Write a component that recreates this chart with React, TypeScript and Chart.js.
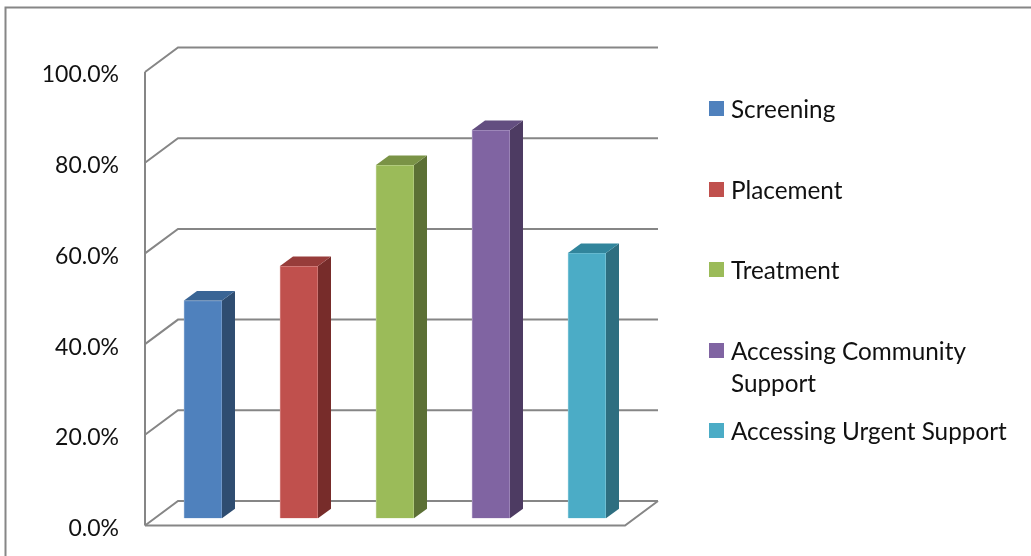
import React, { useEffect, useRef } from "react";
import { Chart, registerables } from "chart.js";

Chart.register(...registerables);

const categories = [
  "Screening",
  "Placement",
  "Treatment",
  "Accessing Community Support",
  "Accessing Urgent Support",
];
const shares = [48.0, 55.6, 77.9, 85.6, 58.5];
const faceColors = ["#4F81BD", "#C0504D", "#9BBB59", "#8064A2", "#4BACC6"];
const edgeColors = ["#7FA3D0", "#D68684", "#B9D08A", "#A793C0", "#80C6D9"];
const sideColors = ["#2F4D71", "#772C2A", "#5C7035", "#4D3B62", "#2E6E80"];
const topColors = ["#3A6595", "#973C3A", "#7A9346", "#634E80", "#31859C"];
const legendLines = [
  ["Screening"],
  ["Placement"],
  ["Treatment"],
  ["Accessing Community", "Support"],
  ["Accessing Urgent Support"],
];
const legendRowCenters = [108.5, 189.5, 269.5, 350.5, 430.5];

const GRID_COLOR = "#868686";
const TEXT_COLOR = "#111111";
const FONT_FAMILY = "Lato, Carlito, sans-serif";
const TICK_FONT_SIZE = 23;
const LEGEND_FONT_SIZE = 24.3;

// Oblique offsets of the box: the walls recede by WALL_*, bars are half-way in.
const WALL_DX = 33;
const WALL_DY = 24.5;
const BAR_DX = 13;
const BAR_DY = 9.5;
// Bars stand in the middle of the floor, so the front-left corner sits left of the first slot.
const FRONT_INSET = 10;

const box3d = {
  id: "box3d",
  beforeDraw(chart: Chart) {
    // Frame of the chart object: only its top and left edges show.
    const { ctx, width, height } = chart;
    ctx.save();
    ctx.strokeStyle = GRID_COLOR;
    ctx.lineWidth = 2;
    ctx.beginPath();
    ctx.moveTo(width, 7.5);
    ctx.lineTo(5.5, 7.5);
    ctx.lineTo(5.5, height);
    ctx.stroke();
    ctx.restore();
  },
  beforeDatasetsDraw(chart: Chart) {
    const { ctx, chartArea } = chart;
    const y = chart.scales.y;
    const left = chartArea.left - FRONT_INSET;
    const right = chartArea.right - FRONT_INSET;
    ctx.save();
    ctx.strokeStyle = GRID_COLOR;
    ctx.lineWidth = 2;
    ctx.lineJoin = "miter";
    // Back wall gridlines with the slanted run on the side wall.
    y.ticks.forEach((t) => {
      const py = y.getPixelForValue(t.value);
      ctx.beginPath();
      ctx.moveTo(left, py);
      ctx.lineTo(left + WALL_DX, py - WALL_DY);
      ctx.lineTo(right + WALL_DX, py - WALL_DY);
      ctx.stroke();
    });
    // Vertical value axis.
    ctx.beginPath();
    ctx.moveTo(left, y.getPixelForValue(100));
    ctx.lineTo(left, y.getPixelForValue(0));
    ctx.stroke();
    // Front and right edges of the floor.
    const floor = y.getPixelForValue(0);
    ctx.beginPath();
    ctx.moveTo(left, floor);
    ctx.lineTo(right, floor);
    ctx.lineTo(right + WALL_DX, floor - WALL_DY);
    ctx.stroke();
    ctx.restore();
  },
  afterDatasetsDraw(chart: Chart) {
    const { ctx } = chart;
    ctx.save();
    chart.getDatasetMeta(0).data.forEach((el: any, i: number) => {
      const { x, y, base, width } = el.getProps(["x", "y", "base", "width"], true);
      const l = x - width / 2;
      const r = x + width / 2;
      ctx.fillStyle = sideColors[i];
      ctx.beginPath();
      ctx.moveTo(r, y);
      ctx.lineTo(r + BAR_DX, y - BAR_DY);
      ctx.lineTo(r + BAR_DX, base - BAR_DY);
      ctx.lineTo(r, base);
      ctx.closePath();
      ctx.fill();
      ctx.fillStyle = topColors[i];
      ctx.beginPath();
      ctx.moveTo(l, y);
      ctx.lineTo(l + BAR_DX, y - BAR_DY);
      ctx.lineTo(r + BAR_DX, y - BAR_DY);
      ctx.lineTo(r, y);
      ctx.closePath();
      ctx.fill();
    });
    ctx.restore();
  },
};

const sideLegend = {
  id: "sideLegend",
  afterDraw(chart: Chart) {
    const { ctx } = chart;
    ctx.save();
    ctx.font = `${LEGEND_FONT_SIZE}px ${FONT_FAMILY}`;
    ctx.textBaseline = "middle";
    ctx.textAlign = "left";
    legendLines.forEach((lines, i) => {
      const cy = legendRowCenters[i];
      ctx.fillStyle = faceColors[i];
      ctx.fillRect(709, cy - 7.5, 15, 15);
      ctx.fillStyle = TEXT_COLOR;
      lines.forEach((line, j) => ctx.fillText(line, 731, cy + 1.5 + j * 32));
    });
    ctx.restore();
  },
};

export default function App() {
  const ref = useRef<HTMLCanvasElement>(null);

  useEffect(() => {
    if (!ref.current) return;
    const chart = new Chart(ref.current, {
      type: "bar",
      data: {
        labels: categories,
        datasets: [
          {
            data: shares,
            yAxisID: "y1",
            backgroundColor: faceColors,
            borderColor: edgeColors,
            borderWidth: 1,
            barThickness: 38,
          },
        ],
      },
      options: {
        responsive: false,
        maintainAspectRatio: false,
        animation: false,
        layout: { padding: { left: 0, right: 396, top: 72, bottom: 30.5 } },
        plugins: { legend: { display: false }, tooltip: { enabled: false } },
        scales: {
          x: { display: false },
          y: {
            min: 0,
            max: 100,
            afterFit: (scale: any) => {
              // The long tick padding only pushes labels sideways; keep it out of the vertical fit.
              scale.width = 155;
              scale.paddingTop = 0;
              scale.paddingBottom = 0;
            },
            grid: { display: false, drawTicks: false },
            border: { display: false },
            ticks: {
              stepSize: 20,
              padding: 36,
              labelOffset: 3,
              color: TEXT_COLOR,
              font: { family: FONT_FAMILY, size: TICK_FONT_SIZE },
              callback: (v: any) => `${Number(v).toFixed(1)}%`,
            },
          },
          // Same pixels per percent as the value axis, with zero lifted off the front edge.
          y1: { axis: "y", position: "left", display: false, min: -1.6, max: 98.4 },
        },
      },
      plugins: [box3d, sideLegend],
    });
    return () => chart.destroy();
  }, []);

  return (
    <div
      style={{
        position: "absolute",
        left: 0,
        top: 0,
        width: 1031,
        height: 556,
        background: "#fff",
      }}
    >
      <canvas ref={ref} width={1031} height={556} style={{ display: "block" }} />
    </div>
  );
}
